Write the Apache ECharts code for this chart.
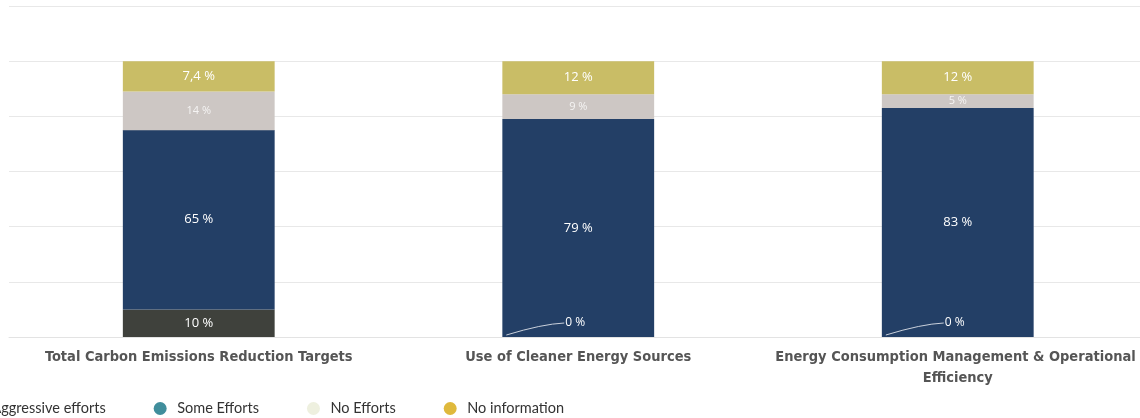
<!DOCTYPE html>
<html><head><meta charset="utf-8">
<script src="https://cdn.jsdelivr.net/npm/echarts@6/dist/echarts.min.js"></script>
<style>html,body{margin:0;padding:0;background:#fff}#c{width:1140px;height:418px}</style>
</head><body><div id="c"></div>
<script>
var categories = ['Total Carbon Emissions Reduction Targets', 'Use of Cleaner Energy Sources', 'Energy Consumption Management & Operational Efficiency'];
var seriesNames = ['Aggressive efforts', 'Some Efforts', 'No Efforts', 'No information'];
var aggressive = [10, 0, 0];
var someEfforts = [65, 79, 83];
var noEfforts = [14, 9, 5];
var noInfo = [11, 12, 12];
var noInfoLabels = ['7,4 %', '12 %', '12 %'];
var barColors = ['#3f413c', '#233f66', '#cdc7c4', '#c9bd66'];
var legendColors = ['#3f413c', '#408e9c', '#eef0df', '#dfb93c'];
var BAR_FRAC = 0.4;

var chart = echarts.init(document.getElementById('c'));
function mk(name, vals, idx, fs, fmt) {
  return {
    name: name, type: 'bar', stack: 'total', barWidth: (BAR_FRAC * 100) + '%',
    itemStyle: { color: barColors[idx] },
    data: vals.map(function (v) {
      var d = { value: v };
      if (v === 0) d.label = { offset: [-3, -14], fontSize: 12 };
      return d;
    }),
    label: { show: true, position: 'inside', color: idx === 2 ? 'rgba(255,255,255,0.8)' : '#fff', fontFamily: 'Open Sans', fontSize: fs,
      formatter: fmt || function (p) { return p.value + ' %'; } }
  };
}
var series = [
  mk(seriesNames[0], aggressive, 0, 13),
  mk(seriesNames[1], someEfforts, 1, 13),
  mk(seriesNames[2], noEfforts, 2, 11),
  mk(seriesNames[3], noInfo, 3, 13, function (p) { return noInfoLabels[p.dataIndex]; })
];
// leader lines for zero-value labels
series.push({
  type: 'custom', silent: true, z: 5,
  data: aggressive.map(function (v, i) { return [i, v]; }),
  renderItem: function (params, api) {
    if (api.value(1) !== 0) return null;
    var base = api.coord([api.value(0), 0]);
    var hw = api.size([1, 0])[0] * BAR_FRAC / 2;
    var sx = base[0] - hw + 4, sy = base[1] - 2;
    var ex = base[0] - 14, ey = base[1] - 14;
    return { type: 'bezierCurve', shape: { x1: sx, y1: sy, x2: ex, y2: ey, cpx1: ex - 22, cpy1: ey + 1 },
      style: { stroke: '#c9d0db', lineWidth: 1, fill: null } };
  }
});
chart.setOption({
  animation: false,
  grid: { left: 9, right: -7.5, top: 6, bottom: 81, outerBoundsMode: 'none', containLabel: false },
  legend: {
    left: -37, top: 396, itemWidth: 24, itemHeight: 13, itemGap: 48, icon: 'circle',
    textStyle: { fontFamily: 'Lato', fontSize: 14.5, color: '#333' },
    data: seriesNames.map(function (n, i) { return { name: n, itemStyle: { color: legendColors[i] } }; })
  },
  xAxis: {
    type: 'category', data: categories,
    axisLine: { lineStyle: { color: '#e3e3e3' } }, axisTick: { show: false },
    axisLabel: { interval: 0, margin: 10, width: 372, overflow: 'break', lineHeight: 21,
      fontFamily: 'DejaVu Sans Condensed', fontWeight: 'bold', fontSize: 14.5, color: '#555' }
  },
  yAxis: {
    type: 'value', min: 0, max: 120, interval: 20,
    axisLabel: { show: false }, axisLine: { show: false }, axisTick: { show: false },
    splitLine: { lineStyle: { color: '#e8e8e8' } }
  },
  series: series
});
</script></body></html>
